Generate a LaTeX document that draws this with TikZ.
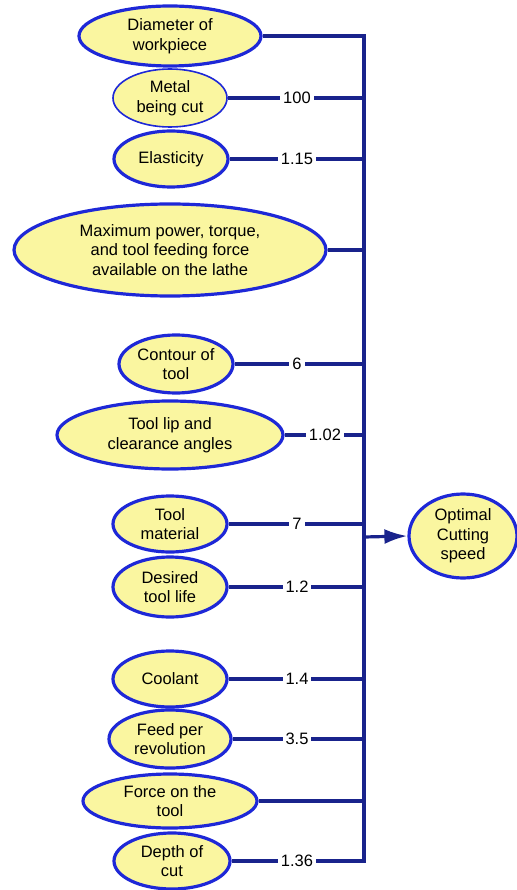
\documentclass[tikz,border=0pt]{standalone}
\usepackage{fontspec}
\setmainfont{Liberation Sans}
\usetikzlibrary{shapes.geometric,arrows.meta}
\definecolor{efill}{RGB}{250,246,160}
\definecolor{eborder}{RGB}{30,40,215}
\definecolor{wire}{RGB}{25,35,140}
\tikzset{
  oval/.style={ellipse, draw=eborder, fill=efill, line width=3.2pt, inner sep=0pt,
    align=center, font=\fontsize{16.5pt}{19.5pt}\selectfont},
  thinoval/.style={oval, line width=1.6pt},
  wireline/.style={draw=wire, line width=3.2pt},
  lbl/.style={fill=white, inner xsep=3pt, inner ysep=1pt, font=\fontsize{16.5pt}{19.5pt}\selectfont}
}
\begin{document}
\begin{tikzpicture}[x=1pt,y=-1pt]
\useasboundingbox (0,0) rectangle (516,890);
\coordinate (bus) at (364,0);
\coordinate (lx) at (297,0);
\coordinate (lx2) at (325,0);

\node[oval, minimum width=182pt, minimum height=60pt] (n1) at (170,36) {Diameter of\\workpiece};
\node[thinoval, minimum width=114pt, minimum height=58pt] (n2) at (170,98) {Metal\\being cut};
\node[oval, minimum width=114pt, minimum height=56pt] (n3) at (171,159) {Elasticity};
\node[oval, minimum width=312pt, minimum height=92pt] (n4) at (170,250) {Maximum power, torque,\\and tool feeding force\\available on the lathe};
\node[oval, minimum width=114pt, minimum height=58pt] (n5) at (176,364) {Contour of\\tool};
\node[oval, minimum width=226pt, minimum height=68pt] (n6) at (170,435) {Tool lip and\\clearance angles};
\node[oval, minimum width=114pt, minimum height=56pt] (n7) at (170,524) {Tool\\material};
\node[oval, minimum width=114pt, minimum height=60pt] (n8) at (170,587) {Desired\\tool life};
\node[oval, minimum width=114pt, minimum height=56pt] (n9) at (170,679) {Coolant};
\node[oval, minimum width=122pt, minimum height=58pt] (n10) at (170,739) {Feed per\\revolution};
\node[oval, minimum width=174pt, minimum height=54pt] (n11) at (170,801) {Force on the\\tool};
\node[oval, minimum width=116pt, minimum height=56pt] (n12) at (172,861) {Depth of\\cut};
\node[oval, minimum width=108pt, minimum height=84pt] (out) at (463,536) {Optimal\\Cutting\\speed};

\coordinate (join) at (364,537);

\draw[wireline, line join=miter] (n1.east) -- (n1.east -| bus) -- (n12.east -| bus) -- (n12.east);
\foreach \n in {n2,n3,n4,n5,n6,n7,n8,n9,n10,n11}{
  \draw[wireline] (\n.east) -- (\n.east -| bus);
}
\draw[wireline, -{Latex[length=23pt,width=15pt]}] (join) -- (out.west);

\node[lbl] at (n2.east -| lx) {100};
\node[lbl] at (n3.east -| lx) {1.15};
\node[lbl] at (n5.east -| lx) {6};
\node[lbl] at (n6.east -| lx2) {1.02};
\node[lbl] at (n7.east -| lx) {7};
\node[lbl] at (n8.east -| lx) {1.2};
\node[lbl] at (n9.east -| lx) {1.4};
\node[lbl] at (n10.east -| lx) {3.5};
\node[lbl] at (n12.east -| lx) {1.36};
\end{tikzpicture}
\end{document}
